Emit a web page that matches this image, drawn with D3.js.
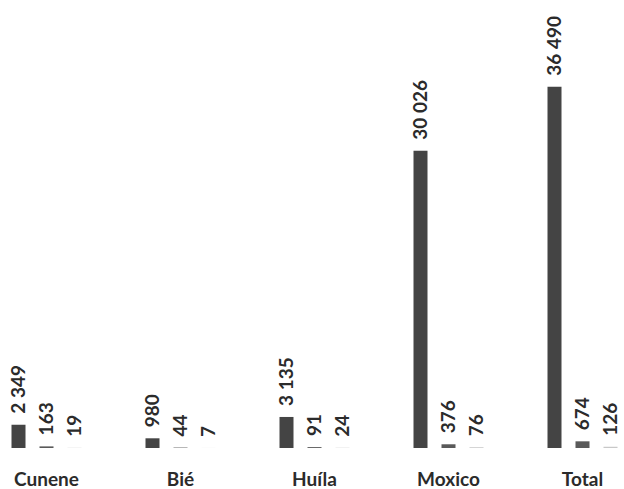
<!DOCTYPE html>
<html>
<head>
<meta charset="utf-8">
<script src="https://cdn.jsdelivr.net/npm/d3@7"></script>
<style>
  html, body { margin: 0; padding: 0; background: #fff; }
  svg { display: block; }
  text { font-family: Lato, "Open Sans", sans-serif; fill: #2b2b2b; font-weight: 700; }
</style>
</head>
<body>
<svg id="chart" width="624" height="489"></svg>
<script>
const categories = ["Cunene", "Bié", "Huíla", "Moxico", "Total"];
const seriesNames = ["s1", "s2", "s3"];
const series1 = [2349, 980, 3135, 30026, 36490];
const series2 = [163, 44, 91, 376, 674];
const series3 = [19, 7, 24, 76, 126];
const seriesColors = ["#444444", "#5a5a5a", "#c8c8c8"];

const seriesValues = [series1, series2, series3];
const fmt = v => d3.format(",")(v).replace(/,/g, " ");

const svg = d3.select("#chart");
const baseline = 448;

const x0 = d3.scaleBand().domain(categories).range([-20.5, 649.5]).padding(0);
const x1 = d3.scaleBand().domain(seriesNames).range([-35, 35]).paddingInner(0.5).paddingOuter(0);
const y = d3.scaleLinear().domain([0, 40000]).range([baseline, 52]);

const groups = svg.selectAll("g.cat")
  .data(categories)
  .join("g")
  .attr("class", "cat")
  .attr("transform", d => `translate(${x0(d) + x0.bandwidth() / 2},0)`);

const cells = groups.selectAll("g.bar")
  .data((c, ci) => seriesNames.map((s, si) => ({ s, si, v: seriesValues[si][ci] })))
  .join("g")
  .attr("class", "bar");

cells.append("rect")
  .attr("x", d => x1(d.s))
  .attr("width", x1.bandwidth())
  .attr("y", d => y(d.v))
  .attr("height", d => baseline - y(d.v))
  .attr("fill", d => seriesColors[d.si]);

cells.append("text")
  .attr("transform", d => `translate(${x1(d.s) + x1.bandwidth() / 2},${y(d.v) - 11}) rotate(-90)`)
  .attr("dy", "0.36em")
  .attr("text-anchor", "start")
  .attr("font-size", 19)
  .text(d => fmt(d.v));

// category axis labels
const xAxis = d3.axisBottom(x0).tickSize(0).tickPadding(0);
const axisG = svg.append("g")
  .attr("transform", `translate(0,${baseline})`)
  .call(xAxis);
axisG.select(".domain").remove();
axisG.selectAll("text")
  .attr("y", 38)
  .attr("dy", 0)
  .attr("font-size", 19)
  .style("font-family", "Lato, 'Open Sans', sans-serif")
  .style("font-weight", 700)
  .attr("fill", "#2b2b2b");
</script>
</body>
</html>
